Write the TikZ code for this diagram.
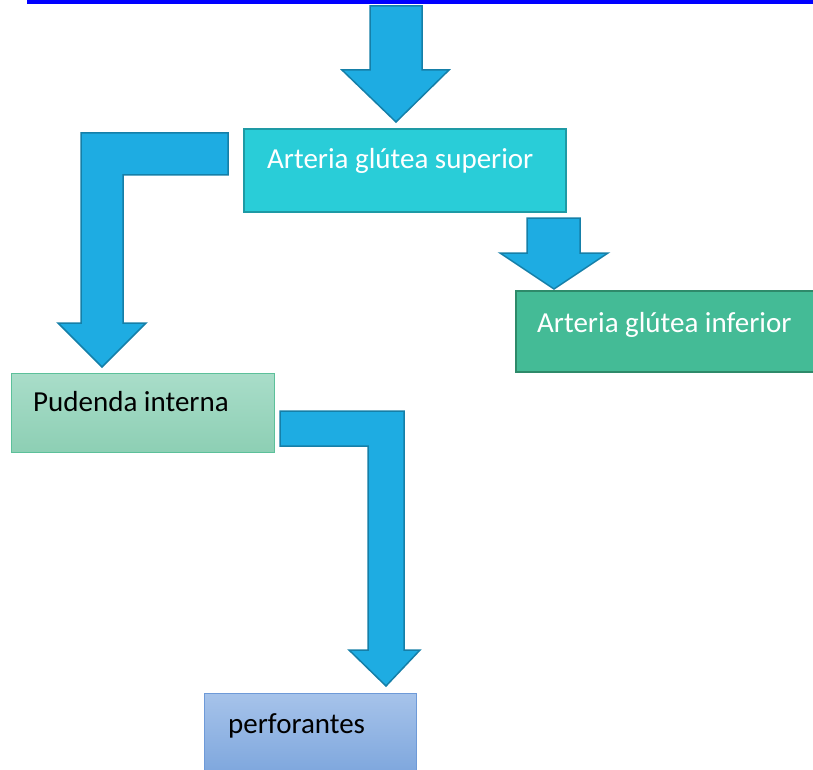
\documentclass[tikz,border=0pt]{standalone}
\usepackage{fontspec}
\setmainfont{Carlito}
\definecolor{banner}{HTML}{0000FF}
\definecolor{arrowfill}{HTML}{1EACE2}
\definecolor{arrowline}{HTML}{157FA8}
\definecolor{supfill}{HTML}{29CDD8}
\definecolor{supline}{HTML}{1E9AA5}
\definecolor{inffill}{HTML}{44BB96}
\definecolor{infline}{HTML}{2E8A6A}
\definecolor{pudtop}{HTML}{A9DDC9}
\definecolor{pudbot}{HTML}{8DCFB4}
\definecolor{pudline}{HTML}{5CC09A}
\definecolor{pertop}{HTML}{A6C3EA}
\definecolor{perbot}{HTML}{7DA6DD}
\definecolor{perline}{HTML}{6E9AD8}
\tikzset{
  blockarrow/.style={fill=arrowfill, draw=arrowline, line width=1.5pt, line join=miter},
  boxlbl/.style={anchor=base west, font=\fontsize{29}{34}\selectfont, inner sep=0pt},
}
\begin{document}
\begin{tikzpicture}[x=1pt,y=-1pt]
\useasboundingbox (0,0) rectangle (813,770);
% banner
\fill[banner] (27,-2) rectangle (815,4);
% boxes
\filldraw[fill=supfill, draw=supline, line width=1.5pt] (244,129) rectangle (566,212);
\node[boxlbl, text=white] (sup) at (267,168) {Arteria glútea superior};
\filldraw[fill=inffill, draw=infline, line width=1.5pt] (516,291) rectangle (818,372);
\node[boxlbl, text=white] (inf) at (537,332) {Arteria glútea inferior};
\shade[top color=pudtop, bottom color=pudbot] (11,373) rectangle (274,452);
\draw[pudline, line width=1pt] (11,373) rectangle (274,452);
\node[boxlbl, text=black] (pud) at (33,411) {Pudenda interna};
\shade[top color=pertop, bottom color=perbot] (204,693) rectangle (416,775);
\draw[perline, line width=1pt] (204,775) -- (204,693) -- (416,693) -- (416,775);
\node[boxlbl, text=black] (per) at (228,733) {perforantes};
% top arrow
\draw[blockarrow] (370,6) -- (422,6) -- (422,70) -- (449,70) -- (396,122) -- (342,70) -- (370,70) -- cycle;
% small arrow to inferior
\draw[blockarrow] (527,218) -- (580,218) -- (580,253) -- (608,253) -- (554,289) -- (500,253) -- (527,253) -- cycle;
% bent arrow to pudenda
\draw[blockarrow] (228,133) -- (228,175) -- (123,175) -- (123,323) -- (146,323) -- (102,367) -- (58,323) -- (81,323) -- (81,133) -- cycle;
% bent arrow to perforantes
\draw[blockarrow] (280,411) -- (404,411) -- (404,650) -- (420,650) -- (386,686) -- (349,650) -- (368,650) -- (368,446) -- (280,446) -- cycle;
\end{tikzpicture}
\end{document}
